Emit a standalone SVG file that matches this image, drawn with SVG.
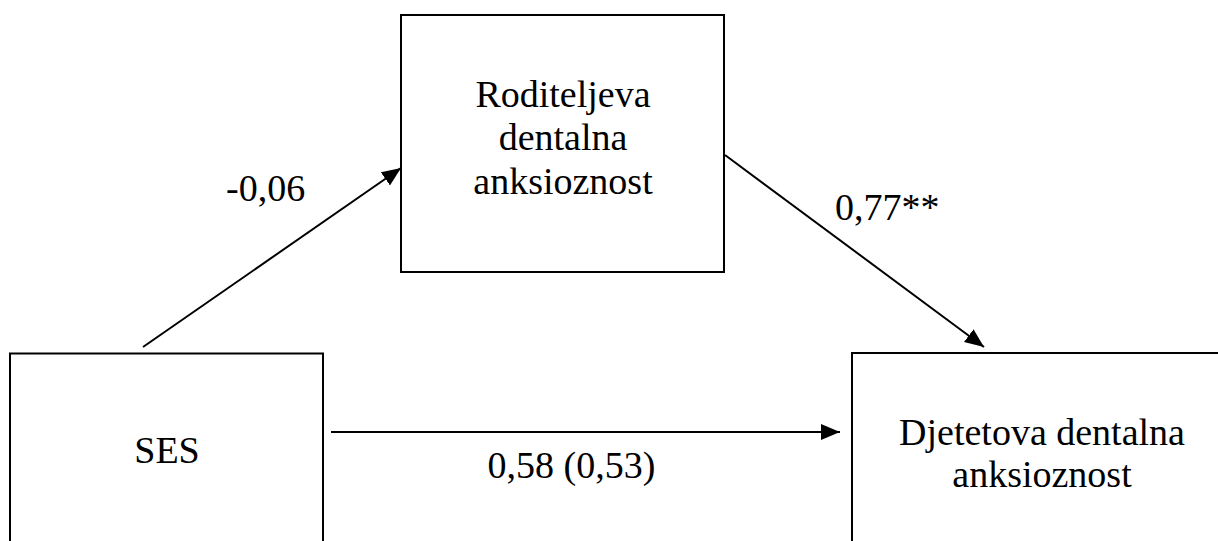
<svg xmlns="http://www.w3.org/2000/svg" width="1218" height="541" viewBox="0 0 1218 541">
<style>
.box{fill:#fff;stroke:#000;stroke-width:2}
.t{font-family:"Liberation Serif","Times New Roman",serif;font-size:38px;fill:#000}
.c{text-anchor:middle}
.edge{stroke:#000;stroke-width:2;fill:none;marker-end:url(#ah)}
</style>
<defs>
<marker id="ah" markerUnits="userSpaceOnUse" markerWidth="20" markerHeight="18" refX="19" refY="8" orient="auto">
<path d="M0,0 L19,8 L0,16 z" fill="#000"/>
</marker>
</defs>
<rect width="1218" height="541" fill="#fff"/>
<g id="node-parent">
<rect class="box" x="401" y="15" width="323" height="257"/>
<text class="t c" x="563" y="107">Roditeljeva</text>
<text class="t c" x="563" y="150">dentalna</text>
<text class="t c" x="563" y="194">anksioznost</text>
</g>
<g id="node-ses">
<rect class="box" x="10" y="353.5" width="313" height="210"/>
<text class="t c" x="167" y="463">SES</text>
</g>
<g id="node-child">
<rect class="box" x="852" y="353" width="400" height="210"/>
<text class="t c" x="1042" y="445">Djetetova dentalna</text>
<text class="t c" x="1042" y="487">anksioznost</text>
</g>
<g id="connectors">
<line class="edge" x1="143" y1="347" x2="401" y2="168"/>
<line class="edge" x1="725" y1="155" x2="984" y2="347"/>
<line class="edge" x1="331" y1="432" x2="840" y2="432"/>
</g>
<g id="labels">
<text class="t" x="226" y="201">-0,06</text>
<text class="t" x="835" y="220">0,77**</text>
<text class="t c" x="571.5" y="478">0,58 (0,53)</text>
</g>
</svg>
